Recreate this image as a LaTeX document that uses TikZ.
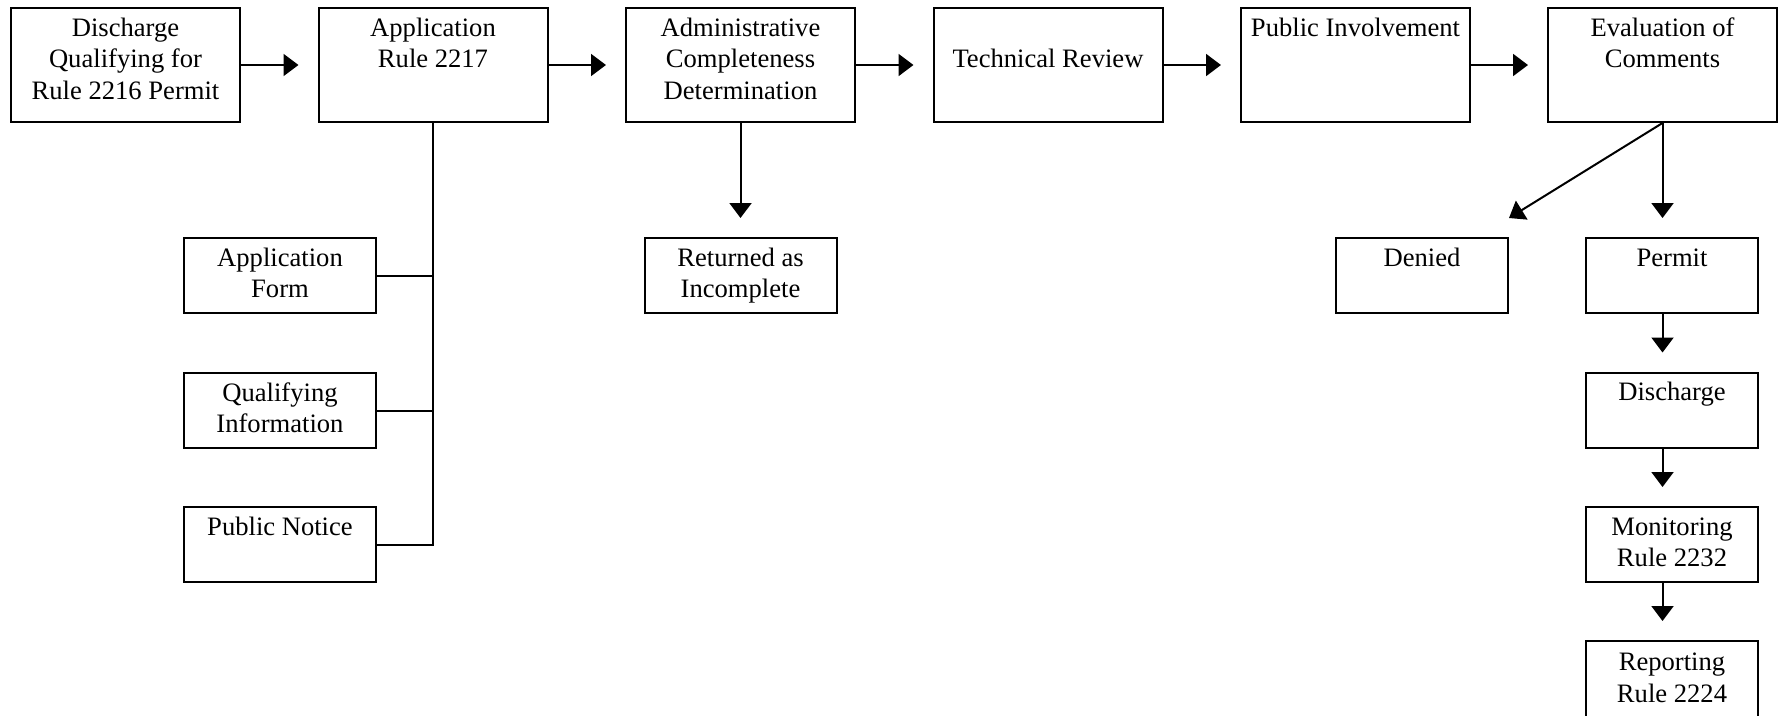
\documentclass[tikz,border=0pt]{standalone}
\usepackage{fontspec}
\setmainfont{Liberation Serif}
\usetikzlibrary{arrows.meta}
\newcommand{\bigtext}[1]{\parbox[c][102pt][t]{222pt}{\centering\strut#1}}
\newcommand{\smalltext}[1]{\parbox[c][63pt][t]{166pt}{\centering\strut#1}}
\tikzstyle{stage} = [draw, line width=2pt, inner sep=0pt, inner ysep=6pt,
  minimum width=229pt, minimum height=114pt,
  font=\fontsize{26.6}{31.5}\selectfont]
\tikzstyle{item} = [stage, minimum width=192pt, minimum height=75pt]
\tikzstyle{result} = [stage, minimum width=172pt, minimum height=75pt]
\tikzstyle{arr} = [line width=2pt, -{Triangle[length=15pt,width=22pt]},
  shorten >=19pt]

\begin{document}
\begin{tikzpicture}[x=1pt, y=-1pt]
  \useasboundingbox (0,0) rectangle (1782,715);
  % main row
  \node[stage] (qual) at (125.5,65) {\bigtext{Discharge\\Qualifying for\\Rule 2216 Permit}};
  \node[stage] (appl) at (433,65) {\bigtext{Application\\Rule 2217}};
  \node[stage] (admin) at (740.5,65) {\bigtext{Administrative\\Completeness\\Determination}};
  \node[stage] (tech) at (1048,65) {\bigtext{\mbox{}\\Technical Review}};
  \node[stage] (public) at (1355.5,65) {\bigtext{Public Involvement}};
  \node[stage] (eval) at (1662.5,65) {\bigtext{Evaluation of\\Comments}};
  \draw[arr] (qual.east) -- (appl.west);
  \draw[arr] (appl.east) -- (admin.west);
  \draw[arr] (admin.east) -- (tech.west);
  \draw[arr] (tech.east) -- (public.west);
  \draw[arr] (public.east) -- (eval.west);
  % application parts
  \node[item] (form) at (280,275.5) {\smalltext{Application\\Form}};
  \node[item] (info) at (280,410.5) {\smalltext{Qualifying\\Information}};
  \node[item] (notice) at (280,544.5) {\smalltext{Public Notice}};
  \draw[line width=2pt] (appl.south) |- (notice.east);
  \draw[line width=2pt] (form.east) -- (form.east -| appl.south);
  \draw[line width=2pt] (info.east) -- (info.east -| appl.south);
  % incomplete
  \node[item] (returned) at (740.5,275.5) {\smalltext{Returned as\\Incomplete}};
  \draw[arr] (admin.south) -- (returned.north);
  % outcome
  \node[result] (denied) at (1422,275.5) {\smalltext{Denied}};
  \node[result] (permit) at (1672,275.5) {\smalltext{Permit}};
  \node[result] (disch) at (1672,410) {\smalltext{Discharge}};
  \node[result] (monit) at (1672,544.5) {\smalltext{Monitoring\\Rule 2232}};
  \node[result, minimum height=78pt] (report) at (1672,680) {\smalltext{Reporting\\Rule 2224}};
  \draw[arr, shorten >=0pt] (eval.south) -- ([yshift=19pt]denied.north east);
  \draw[arr] (eval.south) -- (permit.north -| eval.south);
  \draw[arr] (permit.south -| eval.south) -- (disch.north -| eval.south);
  \draw[arr] (disch.south -| eval.south) -- (monit.north -| eval.south);
  \draw[arr] (monit.south -| eval.south) -- (report.north -| eval.south);
\end{tikzpicture}
\end{document}
